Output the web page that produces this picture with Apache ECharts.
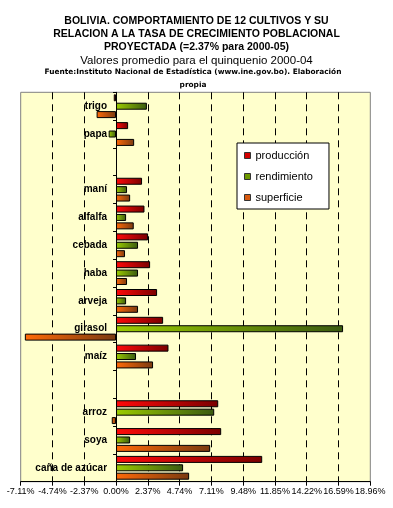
<!DOCTYPE html>
<html><head><meta charset="utf-8">
<script src="https://cdn.jsdelivr.net/npm/echarts@6/dist/echarts.min.js"></script>
<style>html,body{margin:0;padding:0;background:#fff;}#c{width:393px;height:508px;}</style>
</head><body><div id="c"></div>
<script>
var categories = ['trigo','papa','','maní','alfalfa','cebada','haba','arveja','girasol','maíz',' ','arroz','soya','caña de azúcar'];
var produccion  = [-0.17, 0.90, null, 1.94, 2.12, 2.39, 2.54, 3.06, 3.51, 3.91, null, 7.62, 7.84, 10.90];
var rendimiento = [2.30, -0.55, null, 0.82, 0.75, 1.64, 1.64, 0.75, 16.93, 1.49, null, 7.32, 1.05, 5.00];
var superficie  = [-1.45, 1.35, null, 1.05, 1.32, 0.67, 0.82, 1.64, -6.80, 2.76, null, -0.32, 7.02, 5.45];
var seriesNames = ['producción','rendimiento','superficie'];
var titleLines = ['BOLIVIA. COMPORTAMIENTO DE 12 CULTIVOS Y SU','RELACION A LA TASA DE CRECIMIENTO POBLACIONAL','PROYECTADA (=2.37% para 2000-05)'];
var subTitle = 'Valores promedio para el quinquenio 2000-04';
var sourceLines = ['Fuente:Instituto Nacional de Estadística (www.ine.gov.bo). Elaboración','propia'];
var axisMin = -7.11, axisMax = 18.96, axisStep = 2.37;

function grad(a,b){return new echarts.graphic.LinearGradient(0,0,1,0,[{offset:0,color:a},{offset:1,color:b}]);}
var styles = [
  {g:['#ff0a0a','#7a0000'], solid:'#d40000'},
  {g:['#9ccc00','#3a5a10'], solid:'#6f9a00'},
  {g:['#ff6a08','#7a3a10'], solid:'#d85a10'}
];
var chart = echarts.init(document.getElementById('c'), null, {renderer:'canvas'});
var data = [produccion, rendimiento, superficie];
var series = data.map(function(d,i){
  return {name:seriesNames[i], type:'bar', data:d, barWidth:7, barGap:'20%',
    itemStyle:{color:grad(styles[i].g[0],styles[i].g[1]), borderColor:'#000', borderWidth:1}};
});
var graphics = [];
var ys = [21.5, 34.5, 47.5];
titleLines.forEach(function(t,i){
  graphics.push({type:'text', x:196.5, y:ys[i], style:{text:t, font:'bold 10.5px "Liberation Sans", Arial, sans-serif', fill:'#000', align:'center', verticalAlign:'middle'}});
});
graphics.push({type:'text', x:196.5, y:61, style:{text:subTitle, font:'11.5px "Liberation Sans", Arial, sans-serif', fill:'#000', align:'center', verticalAlign:'middle'}});
graphics.push({type:'text', x:193, y:72, style:{text:sourceLines[0], font:'bold 7.4px "DejaVu Sans", sans-serif', fill:'#000', align:'center', verticalAlign:'middle'}});
graphics.push({type:'text', x:193, y:85, style:{text:sourceLines[1], font:'bold 7.4px "DejaVu Sans", sans-serif', fill:'#000', align:'center', verticalAlign:'middle'}});

var gridLeft = 20.7, gridRight = 22.7;
var plotW = 393 - gridLeft - gridRight;
var zeroOffset = plotW * (0 - axisMin) / (axisMax - axisMin);

chart.setOption({
  animation:false,
  backgroundColor:'#fff',
  graphic:graphics,
  legend:{orient:'vertical', left:237, top:143, backgroundColor:'#fff', borderColor:'#000', borderWidth:1,
    padding:[7,16,6,7], itemWidth:6, itemHeight:6, itemGap:10, icon:'rect',
    textStyle:{fontSize:11, fontFamily:'Liberation Sans, Arial, sans-serif', color:'#000'},
    data:seriesNames.map(function(n,i){return {name:n, itemStyle:{color:styles[i].solid, borderColor:'#333', borderWidth:1}};})},
  grid:{left:gridLeft, right:gridRight, top:92.3, bottom:26.3, show:true, containLabel:false, outerBoundsMode:'none',
    backgroundColor:'#ffffcc', borderColor:'#808080', borderWidth:1},
  xAxis:{type:'value', min:axisMin, max:axisMax, interval:axisStep,
    axisLine:{show:true, onZero:false, lineStyle:{color:'#000', width:1}},
    axisTick:{show:true, length:4, lineStyle:{color:'#000'}},
    axisLabel:{fontSize:9, fontFamily:'Liberation Sans, Arial, sans-serif', color:'#000', margin:5,
      showMinLabel:true, showMaxLabel:true, hideOverlap:false,
      formatter:function(v){return v.toFixed(2)+'%';}},
    splitLine:{show:true, showMinLine:false, showMaxLine:false, lineStyle:{color:'#000', type:[7,5], width:1}}},
  yAxis:{type:'category', data:categories, inverse:true,
    axisLine:{show:true, onZero:true, lineStyle:{color:'#000', width:1}},
    axisTick:{show:true, length:3, lineStyle:{color:'#000'}},
    axisLabel:{fontSize:10, fontWeight:'bold', fontFamily:'Liberation Sans, Arial, sans-serif', color:'#000',
      margin:9 - zeroOffset, interval:0, hideOverlap:false},
    splitLine:{show:false}},
  series:series
});
</script></body></html>
